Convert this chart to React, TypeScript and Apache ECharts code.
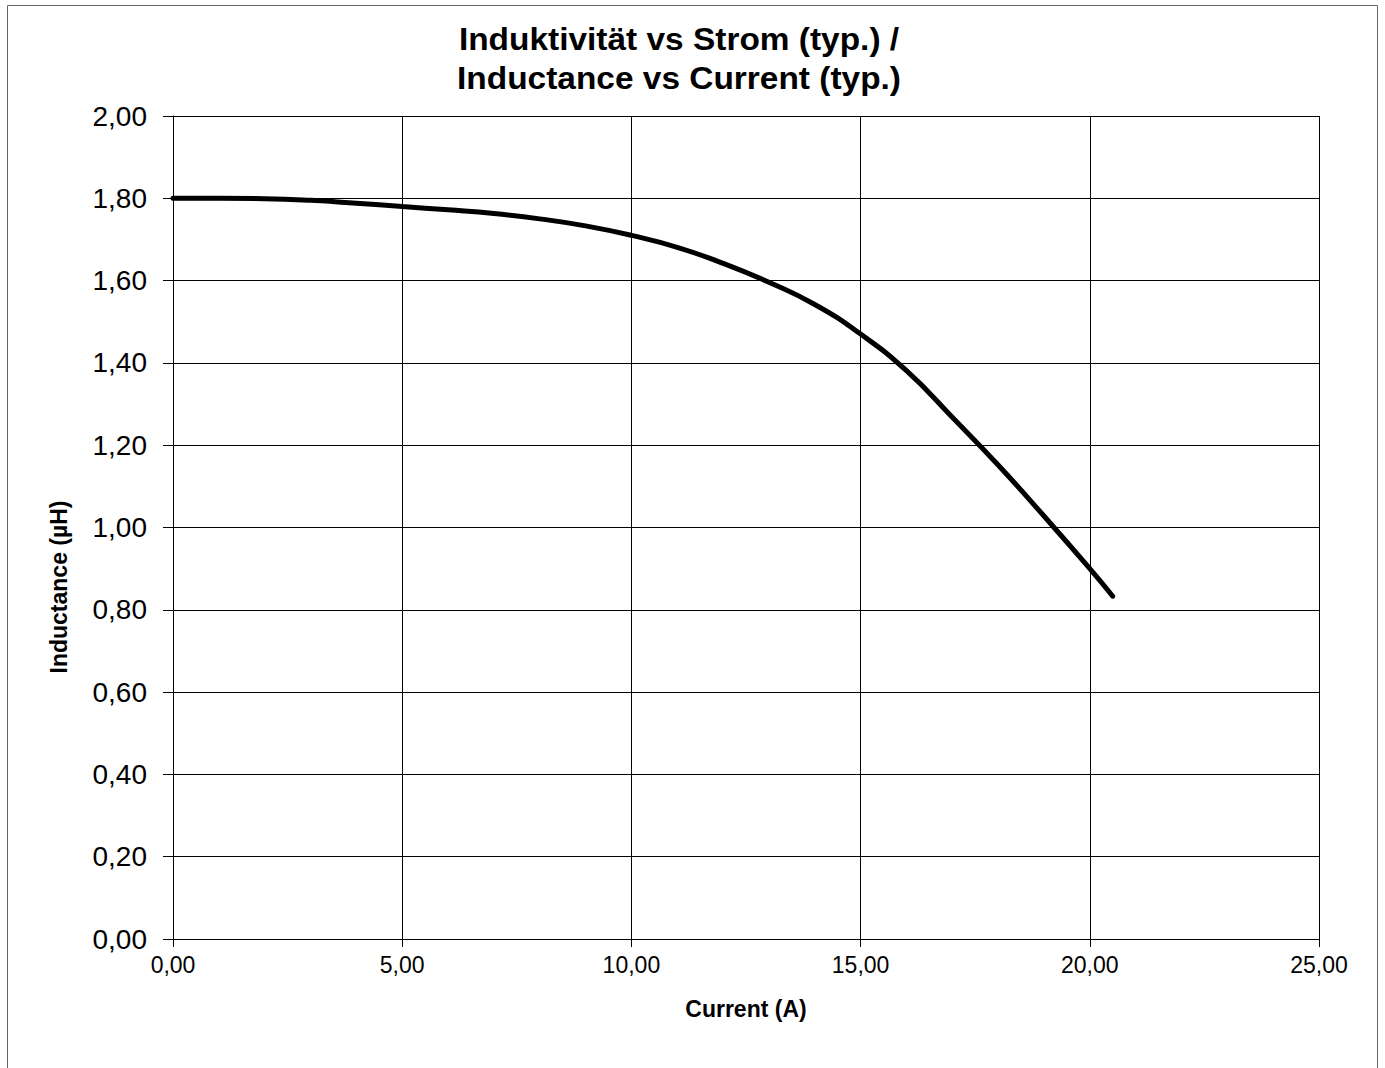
import React, { useEffect, useRef } from "react";
import * as echarts from "echarts";

const currentA = [0, 1, 2, 3, 4, 5, 6, 7, 8, 9, 10, 11, 12, 13, 14, 15, 16, 17, 18, 19, 20, 20.5];
const inductanceUH = [1.8, 1.8, 1.799, 1.795, 1.788, 1.78, 1.772, 1.763, 1.75, 1.733, 1.71, 1.681, 1.642, 1.596, 1.542, 1.47, 1.381, 1.268, 1.152, 1.028, 0.9, 0.833];
const titleLines = ["Induktivität vs Strom (typ.) /", "Inductance vs Current (typ.)"];
const xAxisName = "Current (A)";
const yAxisName = "Inductance (µH)";

const FONT = '"Liberation Sans", Arial, sans-serif';
const fmt = (v: number) => v.toFixed(2).replace(".", ",");

export default function App() {
  const ref = useRef<HTMLDivElement>(null);
  useEffect(() => {
    if (!ref.current) return;
    const chart = echarts.init(ref.current, undefined, { renderer: "svg" });
    chart.setOption({
      animation: false,
      backgroundColor: "#ffffff",
      grid: { left: 173, right: 66, top: 116, bottom: 129, containLabel: false },
      xAxis: {
        type: "value",
        min: 0,
        max: 25,
        interval: 5,
        name: xAxisName,
        nameLocation: "middle",
        nameGap: 58,
        nameTextStyle: { fontFamily: FONT, fontSize: 23, fontWeight: "bold", color: "#000" },
        axisLine: { show: true, onZero: false, lineStyle: { color: "#000", width: 1 } },
        axisTick: { show: true, inside: false, length: 8, lineStyle: { color: "#000" } },
        axisLabel: { fontFamily: FONT, fontSize: 23, color: "#000", margin: 14, formatter: fmt },
        splitLine: { show: true, lineStyle: { color: "#000", width: 1 } },
      },
      yAxis: {
        type: "value",
        min: 0,
        max: 2,
        interval: 0.2,
        axisLine: { show: true, onZero: false, lineStyle: { color: "#000", width: 1 } },
        axisTick: { show: true, inside: false, length: 10, lineStyle: { color: "#000" } },
        axisLabel: { fontFamily: FONT, fontSize: 28, color: "#000", margin: 26, formatter: fmt },
        splitLine: { show: true, lineStyle: { color: "#000", width: 1 } },
      },
      graphic: [
        {
          type: "rect",
          shape: { x: 7.5, y: 5.5, width: 1370, height: 1100 },
          style: { fill: "none", stroke: "#666", lineWidth: 1 },
          silent: true,
          z: -1,
        },
        {
          type: "text",
          x: 679,
          y: 39,
          scaleX: 1.045,
          style: { text: titleLines[0], fontFamily: FONT, fontSize: 32, fontWeight: "bold", fill: "#000", align: "center", verticalAlign: "middle" },
        },
        {
          type: "text",
          x: 679,
          y: 78,
          scaleX: 1.045,
          style: { text: titleLines[1], fontFamily: FONT, fontSize: 32, fontWeight: "bold", fill: "#000", align: "center", verticalAlign: "middle" },
        },
        {
          type: "text",
          x: 58.5,
          y: 587,
          rotation: Math.PI / 2,
          style: { text: yAxisName, fontFamily: FONT, fontSize: 23, fontWeight: "bold", fill: "#000", align: "center", verticalAlign: "middle" },
        },
      ],
      series: [
        {
          type: "line",
          data: currentA.map((x, i) => [x, inductanceUH[i]]),
          smooth: 0.5,
          showSymbol: false,
          lineStyle: { color: "#000", width: 5, cap: "round" },
        },
      ],
    });
    return () => chart.dispose();
  }, []);
  return <div ref={ref} style={{ position: "absolute", left: 0, top: 0, width: 1385, height: 1068 }} />;
}
